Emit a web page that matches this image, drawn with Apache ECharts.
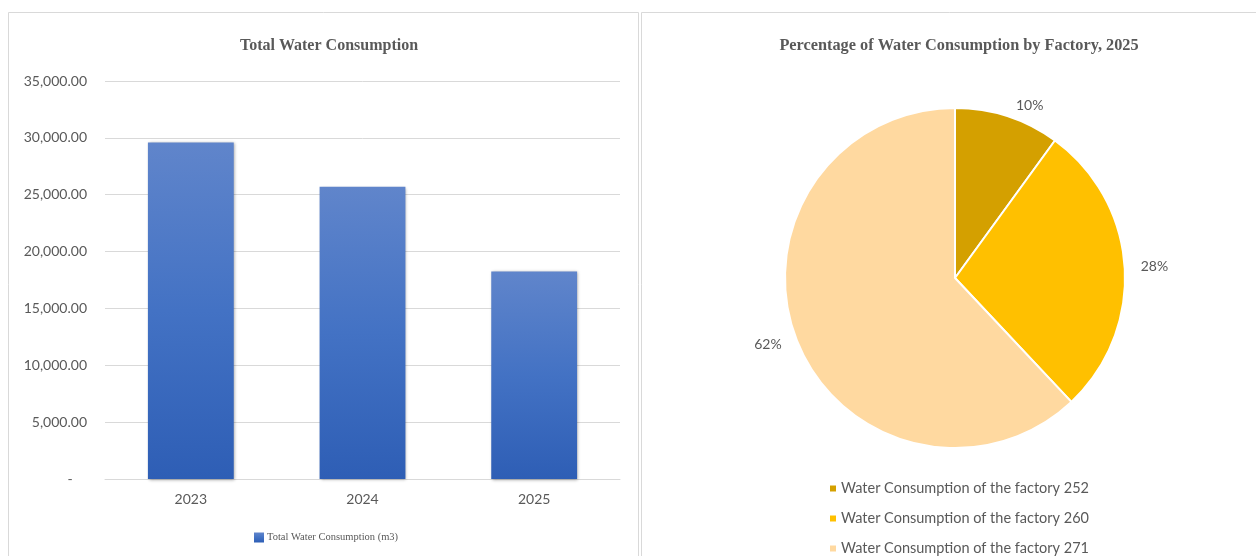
<!DOCTYPE html>
<html>
<head>
<meta charset="utf-8">
<script src="https://cdn.jsdelivr.net/npm/echarts@6/dist/echarts.min.js"></script>
<style>
html,body{margin:0;padding:0;background:#fff;}
#c{width:1256px;height:556px;}
</style>
</head>
<body>
<div id="c"></div>
<script>
const years = ['2023', '2024', '2025'];
const totalWater = [29600, 25700, 18250];
const barSeriesName = 'Total Water Consumption (m3)';
const factories = ['Water Consumption of the factory 252', 'Water Consumption of the factory 260', 'Water Consumption of the factory 271'];
const factoryShare = [10, 28, 62];
const factoryColors = ['#D4A000', '#FFC000', '#FFD9A0'];
const barTitle = 'Total Water Consumption';
const pieTitle = 'Percentage of Water Consumption by Factory, 2025';

const txt = '#595959';
const chart = echarts.init(document.getElementById('c'), null, {renderer: 'canvas'});
chart.setOption({
  animation: false,
  backgroundColor: '#fff',
  graphic: [
    {type: 'rect', shape: {x: 8.5, y: 12.5, width: 630, height: 560}, style: {fill: 'none', stroke: '#d9d9d9', lineWidth: 1}, silent: true},
    {type: 'rect', shape: {x: 641.5, y: 12.5, width: 630, height: 560}, style: {fill: 'none', stroke: '#d9d9d9', lineWidth: 1}, silent: true}
  ],
  title: [
    {text: barTitle, left: 324, top: 33, textAlign: 'center',
     textStyle: {fontFamily: 'Liberation Serif', fontWeight: 'bold', fontSize: 16, color: txt}},
    {text: pieTitle, left: 954, top: 33, textAlign: 'center',
     textStyle: {fontFamily: 'Liberation Serif', fontWeight: 'bold', fontSize: 16.3, color: txt}}
  ],
  legend: [
    {data: [barSeriesName], left: 249, top: 527, itemWidth: 10, itemHeight: 10, icon: 'rect', itemGap: 4,
     textStyle: {fontFamily: 'Liberation Serif', fontSize: 10.5, color: txt, padding: [0,0,0,-2]}},
    {data: factories, left: 828, top: 481, padding: 0, orient: 'vertical', itemWidth: 8, itemHeight: 8, icon: 'rect', itemGap: 15,
     textStyle: {fontFamily: 'Lato', fontSize: 14.5, lineHeight: 14, color: txt, padding: [0,0,0,-1]}}
  ],
  grid: {left: 105, right: 636, top: 81, bottom: 77},
  xAxis: {
    type: 'category', data: years,
    axisLine: {lineStyle: {color: '#d9d9d9', width: 1}},
    axisTick: {show: false},
    axisLabel: {color: txt, fontFamily: 'Lato', fontSize: 14, margin: 13}
  },
  yAxis: {
    type: 'value', min: 0, max: 35000, interval: 5000,
    axisLine: {show: false}, axisTick: {show: false},
    splitLine: {lineStyle: {color: '#d9d9d9', width: 1}},
    axisLabel: {color: txt, fontFamily: 'Lato', fontSize: 14, margin: 18,
      formatter: v => v === 0 ? '-    ' : v.toLocaleString('en-US', {minimumFractionDigits: 2, maximumFractionDigits: 2})}
  },
  series: [
    {
      name: barSeriesName, type: 'bar', data: totalWater, barWidth: '50%',
      itemStyle: {
        color: new echarts.graphic.LinearGradient(0, 0, 0, 1, [
          {offset: 0, color: '#6085CB'}, {offset: 0.5, color: '#4372C4'}, {offset: 1, color: '#2E5EB5'}
        ]),
        shadowColor: 'rgba(0,0,0,0.35)', shadowBlur: 3, shadowOffsetX: 1, shadowOffsetY: 1
      }
    },
    {
      type: 'pie', center: [955, 278], radius: 170, startAngle: 90, clockwise: true,
      data: factories.map((n, i) => ({name: n, value: factoryShare[i], itemStyle: {color: factoryColors[i]}})),
      itemStyle: {borderColor: '#fff', borderWidth: 2},
      label: {show: true, position: 'outside', formatter: p => Math.round(p.percent) + '%',
        color: txt, fontFamily: 'Lato', fontSize: 14},
      labelLine: {show: false, length: 11, length2: 0},
      emphasis: {disabled: true}
    }
  ]
});
</script>
</body>
</html>
